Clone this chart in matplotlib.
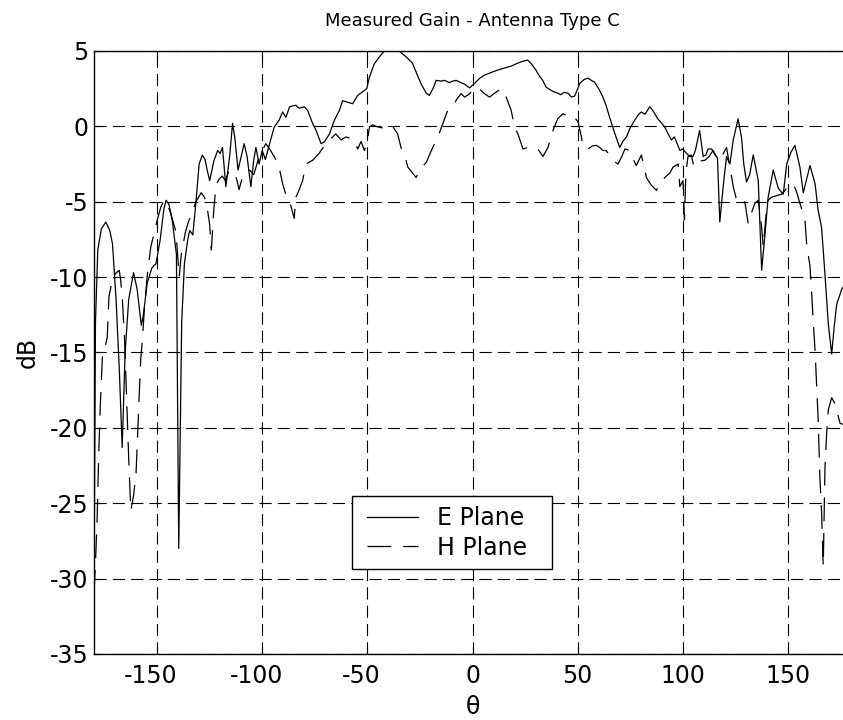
import matplotlib
matplotlib.use("Agg")
import matplotlib.pyplot as plt
import matplotlib.transforms as mtransforms
from matplotlib.lines import Line2D
from matplotlib.legend_handler import HandlerLine2D

# E-plane measured gain: angle (deg) and gain (dB)
e_theta = [-180, -179.3, -178.2, -176.5, -174.4, -172.5, -171.2, -169.5, -168, -166.6,
           -165.2, -163.5, -161.2, -159.5, -157.5, -156.5, -154.7, -152.5, -150.5, -148.5,
           -146.8, -145.7, -144.3, -142.8, -140.8, -139.7, -138.3, -137, -135.5, -134.5,
           -133, -131.5, -130, -128.5, -127.2, -126, -125, -123, -121.2, -120,
           -118.9, -117.3, -115.5, -114.1, -113, -111.5, -110, -108.6, -107.2, -105.4,
           -104, -103, -101.5, -100, -98.5, -96, -94.3, -92, -90.3, -88.7,
           -87, -84, -82.4, -80, -78.4, -76, -74.4, -72, -70.5, -68,
           -65.7, -63.3, -61.8, -59.4, -57, -54.6, -52.2, -50.3, -49, -46.7,
           -44.3, -42, -40, -38, -36, -34.5, -31.5, -28.6, -26.5, -24.4,
           -22, -20.5, -18.5, -17.3, -15, -13.3, -11, -9.5, -7.8, -5.5,
           -3.8, -1.4, 1, 3.5, 5.7, 8.5, 11.3, 13.5, 16, 18.5,
           20.8, 23.5, 26.2, 28.3, 30.3, 32, 33.4, 35, 36.7, 38.5,
           40.5, 42, 43.5, 45.5, 47, 48.5, 49.8, 51, 53, 54.9,
           56.5, 58, 60, 62, 63.5, 65.2, 67.5, 70, 71.5, 73.2,
           75, 77.1, 79, 80.3, 82, 84.3, 86, 88.1, 90, 91.4,
           93, 94.6, 96, 97.5, 98.6, 100, 101.8, 103.3, 104.8, 106,
           108, 109.7, 111, 112, 113.7, 115, 116.5, 117.6, 119.2, 120.8,
           122.4, 124, 126.3, 127.9, 129, 130.3, 131.8, 133.5, 135.9, 137.5,
           139, 140.6, 143, 145.4, 147.8, 149.4, 151.5, 153.3, 155.7, 157.3,
           160.5, 162.9, 164.4, 166, 167.6, 169.2, 170.8, 172, 173.2, 175.6,
           177, 180]
e_gain = [-30.5, -13.0, -8.2, -6.8, -6.35, -6.9, -7.8, -11.5, -16, -21.3,
          -15, -11.5, -9.7, -10.8, -13.2, -12.5, -10.4, -9.4, -9.1, -7.5,
          -5.5, -4.9, -5.2, -6.2, -8.5, -28.0, -13, -9.1, -7.6, -6.9,
          -7.2, -5, -2.5, -1.9, -2.2, -3.0, -3.6, -2.3, -1.6, -1.8,
          -1.4, -4.0, -2.0, 0.2, -0.8, -2.9, -2.0, -1.15, -2.0, -4.0,
          -2.2, -1.4, -2.5, -1.6, -2.2, -0.9, -0.05, 0.4, 0.95, 0.6,
          1.3, 1.4, 1.2, 1.3, 1.06, 0.18, -0.27, -1.15, -1.04, -0.5,
          0.4, 1.06, 1.7, 1.6, 1.5, 2.05, 2.3, 2.5, 3.27, 4.15,
          4.6, 5.0, 5.3, 5.4, 5.2, 4.95, 4.6, 4.2, 3.5, 2.8,
          2.2, 2.05, 2.6, 3.05, 3.0, 3.05, 2.9, 3.0, 3.05, 2.9,
          2.8, 2.55, 2.85, 3.2, 3.4, 3.55, 3.7, 3.8, 3.9, 4.0,
          4.15, 4.3, 4.4, 4.1, 3.7, 3.3, 3.05, 2.6, 2.45, 2.3,
          2.2, 2.1, 2.25, 2.2, 1.95, 2.0, 2.4, 2.85, 3.1, 3.2,
          3.05, 2.94, 2.5, 1.95, 1.4, 0.6, -0.4, -1.4, -1.0, -0.7,
          -0.1, 0.4, 0.8, 0.95, 0.8, 1.3, 1.0, 0.5, 0.2, -0.04,
          -0.5, -0.9, -0.7, -1.2, -1.6, -1.5, -1.8, -2.0, -2.0, -1.6,
          -0.27, -2.0, -1.9, -1.5, -1.5, -1.8, -2.1, -6.35, -4.0, -2.0,
          -2.5, -0.9, 0.5, -0.7, -2.5, -3.7, -3.2, -1.9, -3.6, -9.55,
          -7.3, -4.7, -2.9, -4.1, -4.5, -2.5, -1.7, -1.26, -2.7, -4.4,
          -2.6, -3.8, -5.6, -6.7, -9.8, -13.1, -15.1, -13.3, -11.8, -10.8,
          -10.5, -11.5]

# H-plane measured gain: angle (deg) and gain (dB)
h_theta = [-180, -179.3, -178.5, -177.8, -177, -176, -175, -173.7, -172.9, -171.3,
           -169.7, -168, -167.3, -166.5, -165.5, -164.5, -163.5, -162.5, -161.2, -160,
           -159.4, -158.6, -157.8, -157, -156, -154.6, -153, -151.4, -149.9, -148.2,
           -146.7, -145.5, -143.5, -141, -139.5, -138.5, -136.5, -135, -133, -131.5,
           -129, -127.5, -126.5, -125, -124.2, -123, -122, -120.5, -119, -117.5,
           -115.7, -114, -112.5, -111, -109.5, -108, -106, -104, -102, -99.9,
           -98.3, -96.5, -94.3, -92, -90.3, -88, -86.3, -84.8, -84, -82.4,
           -80.8, -79.2, -76, -73, -70.5, -68, -65, -62.5, -60.1, -58,
           -56.2, -54.6, -53, -51.4, -50, -49, -47.5, -45.9, -43, -40.5,
           -38, -35.6, -34, -32.5, -31.6, -30.8, -29, -26.8, -25.2, -23.5,
           -22, -20.5, -18.9, -16.5, -14.1, -11.8, -9.4, -7.5, -5.4, -3.8,
           -2, -0.6, 1.8, 3.5, 5.7, 8.1, 10.5, 13.7, 16, 18.4,
           20, 21.6, 24, 26.4, 28.5, 31.1, 33.5, 35.9, 38.3, 40.5,
           43, 45, 47.8, 50.2, 51.8, 52.5, 55, 57, 58.9, 60.5,
           62, 63.5, 65.2, 67, 69.2, 71, 72.5, 74.8, 76.5, 77.9,
           80.3, 81.5, 82.7, 85, 87.5, 89, 91.4, 93.8, 95.4, 97.8,
           98.6, 100.1, 100.8, 101.5, 102.5, 104, 105, 106.5, 108, 110.5,
           112.5, 114.4, 116.8, 118.5, 120.8, 122.5, 124, 125.6, 127.1, 128.5,
           129.5, 131.1, 132.5, 134.3, 135.9, 137.5, 138.3, 139.5, 140.6, 142.2,
           144.5, 147, 150.1, 152.5, 154, 155.7, 158.1, 158.9, 160.5, 161.3,
           162.1, 162.9, 163.6, 164.4, 165.2, 166, 166.8, 167.6, 168.4, 169.2,
           170.8, 172.4, 174.8, 177, 180]
h_gain = [-31.0, -29, -26, -22, -18.5, -15.3, -14.8, -14, -11.3, -10.2,
          -9.75, -9.55, -10.2, -11.5, -14, -18, -22, -25.5, -24.5, -23,
          -21, -18.2, -15.5, -14.2, -12, -9.8, -8, -7.1, -6.2, -5.35,
          -4.9, -5.0, -5.8, -7, -10, -8.5, -7.0, -6.3, -5.6, -5.0,
          -4.4, -4.7, -5.1, -6.5, -8.2, -5.5, -3.9, -3.5, -3.3, -3.6,
          -2.9, -3.2, -3.3, -4.2, -3.4, -3.0, -2.9, -3.2, -2.25, -1.6,
          -1.15, -1.5, -2.0, -2.7, -3.8, -4.9, -5.3, -6.1, -4.7, -4.2,
          -3.6, -2.5, -2.25, -1.8, -1.3, -0.9, -0.5, -0.9, -0.7, -0.8,
          -0.9, -1.5, -1.0, -1.6, -1.0, -0.04, 0.1, 0.0, -0.1, 0.1,
          0.0, -0.5, -1.4, -1.9, -2.25, -2.7, -3.0, -3.4, -2.9, -2.6,
          -2.4, -1.9, -1.4, -0.7, 0.18, 1.06, 1.28, 1.8, 2.17, 1.94,
          2.1, 2.27, 2.6, 2.45, 2.17, 1.94, 2.2, 2.5, 1.94, 1.06,
          -0.04, -0.5, -1.5, -1.4, -1.5, -1.5, -2.0, -1.4, -0.27, 0.5,
          0.84, 0.7, 0.73, 0.29, -0.7, -1.4, -1.5, -1.3, -1.26, -1.4,
          -1.6, -1.6, -1.9, -2.3, -2.5, -2.0, -1.5, -1.6, -2.2, -2.6,
          -1.9, -2.6, -3.4, -3.9, -4.25, -3.8, -3.4, -3.1, -2.7, -2.5,
          -4.0, -3.6, -6.2, -3.0, -2.0, -1.9, -2.5, -2.7, -2.3, -2.25,
          -2.0, -1.6, -2.25, -2.0, -1.4, -2.8, -4.0, -4.9, -4.8, -5.1,
          -5.0, -6.45, -5.8, -5.1, -4.9, -6.7, -8.0, -6.0, -4.9, -4.7,
          -4.6, -4.5, -4.0, -3.8, -4.3, -5.1, -6.2, -7.8, -9.3, -11.1,
          -13.1, -14.85, -17, -19.5, -23.3, -25.6, -29.2, -22.7, -20.4, -18.8,
          -18.0, -18.4, -19.7, -19.8, -20.0]

x_ticks = [-150, -100, -50, 0, 50, 100, 150]
y_ticks = [-35, -30, -25, -20, -15, -10, -5, 0, 5]

plt.rcParams['font.family'] = ['DejaVu Sans']
plt.rcParams['axes.unicode_minus'] = False

fig = plt.figure(figsize=(8.43, 7.2), dpi=100)
ax = fig.add_axes([0.1115, 0.0917, 0.898, 0.8375])

ax.plot(e_theta, e_gain, color='black', linewidth=0.9, label='E Plane')
ax.plot(h_theta, h_gain, color='black', linewidth=0.9,
        linestyle=(0, (19, 9.5)), label='H Plane')

ax.set_xlim(-180, 180)
ax.set_ylim(-35, 5)
ax.tick_params(direction='in', length=5, width=0.8, labelsize=17,
               top=True, right=True)
ax.tick_params(axis='x', pad=7)
ax.tick_params(axis='y', pad=4)
ax.set_xticks(x_ticks)
ax.set_xticklabels([str(t) for t in x_ticks])
ax.set_yticks(y_ticks)
ax.set_yticklabels([str(t) for t in y_ticks])

# keep the digits of negative x labels centred on the tick, sign hanging left
for lab, t in zip(ax.get_xticklabels(), x_ticks):
    if t < 0:
        lab.set_transform(mtransforms.offset_copy(lab.get_transform(), fig=fig,
                                                  x=-0.06, y=0, units='inches'))

ax.grid(True, color='black', linestyle=(0, (11, 5.5)), linewidth=0.8)
for s in ax.spines.values():
    s.set_linewidth(1.0)

ax.set_title('Measured Gain - Antenna Type C', fontsize=13, pad=18)
ax.set_xlabel('θ', fontsize=17, labelpad=5)
ax.set_ylabel('dB', fontsize=17, labelpad=7)

leg = ax.legend(loc='lower left', bbox_to_anchor=(0.341, 0.141, 200 / 757, 0.1),
                mode='expand', borderaxespad=0, fontsize=17, frameon=True,
                fancybox=False, edgecolor='black', framealpha=1,
                numpoints=2, handlelength=2.64, handletextpad=0.57,
                labelspacing=0.24, borderpad=0.4,
                handler_map={Line2D: HandlerLine2D(marker_pad=0.24)})
leg.get_frame().set_linewidth(1.0)

fig.savefig('out.png', dpi=100)
